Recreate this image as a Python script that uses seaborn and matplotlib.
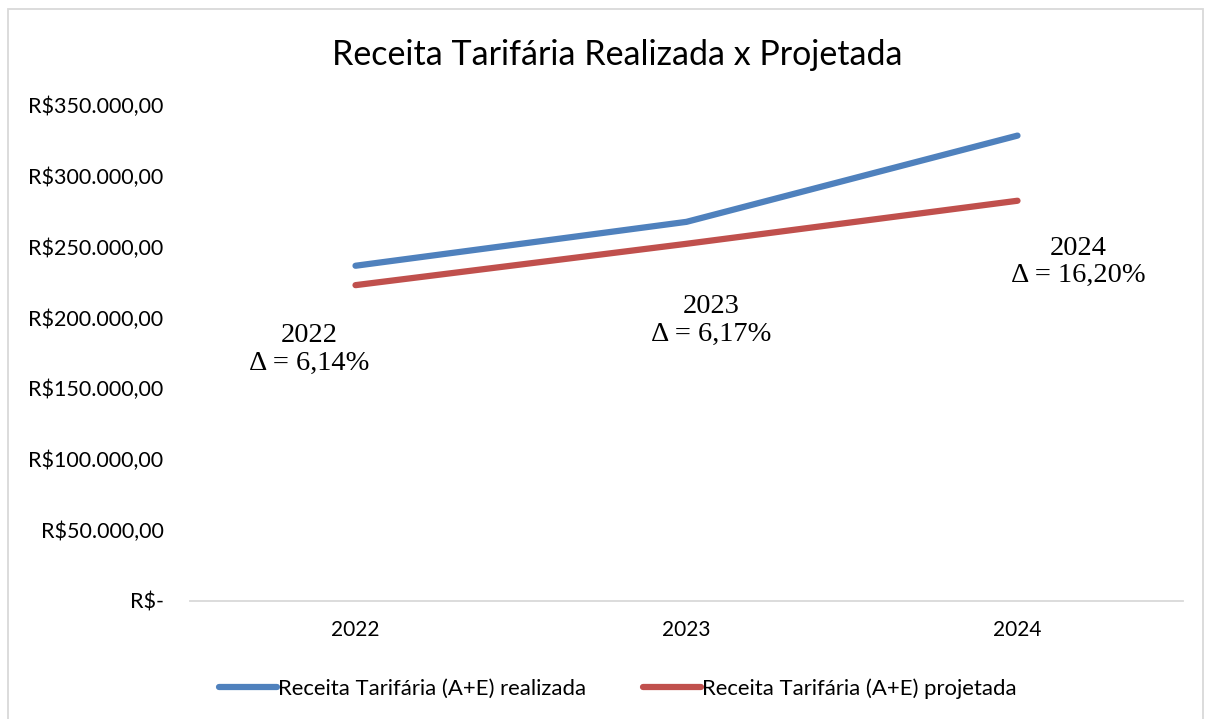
import matplotlib
matplotlib.use("Agg")
import matplotlib.pyplot as plt
from matplotlib.patches import Rectangle
from matplotlib.ticker import FuncFormatter
import seaborn as sns
import pandas as pd

years = ["2022", "2023", "2024"]
realizada = [236500, 267500, 328400]
projetada = [222800, 252000, 282400]
deltas = ["6,14%", "6,17%", "16,20%"]
series_names = ["Receita Tarifária (A+E) realizada", "Receita Tarifária (A+E) projetada"]
title = "Receita Tarifária Realizada x Projetada"

df = pd.DataFrame({
    "Ano": years * 2,
    "Valor": realizada + projetada,
    "Serie": [series_names[0]] * 3 + [series_names[1]] * 3,
})

sns.set_theme(style="white")
plt.rcParams["font.family"] = ["Lato", "DejaVu Sans"]
plt.rcParams["text.color"] = "black"
plt.rcParams["xtick.color"] = "black"
plt.rcParams["ytick.color"] = "black"

fig = plt.figure(figsize=(12.05, 7.19), dpi=100)
ax = fig.add_axes([190 / 1205, 1 - 600.7 / 719, (1183 - 190) / 1205, (600.7 - 105) / 719])

palette = {series_names[0]: "#4F81BD", series_names[1]: "#C0504D"}
sns.lineplot(data=df, x="Ano", y="Valor", hue="Serie", palette=palette,
             linewidth=4.5, ax=ax, sort=False, legend=True)
for ln in ax.get_lines():
    ln.set_solid_capstyle("round")

ax.set_xlim(-0.5, 2.5)
ax.set_ylim(0, 350000)
ax.set_yticks(range(0, 350001, 50000))

def fmt(v, pos):
    if v == 0:
        return "R$-"
    s = f"{int(v):,}".replace(",", ".")
    return f"R${s},00"

ax.yaxis.set_major_formatter(FuncFormatter(fmt))
ax.tick_params(axis="y", labelsize=15.5, pad=19, length=0, labelcolor="black")
ax.tick_params(axis="x", labelsize=15, pad=14, length=0, labelcolor="black")
ax.set_xlabel("")
ax.set_ylabel("")
for side in ["top", "right", "left"]:
    ax.spines[side].set_visible(False)
ax.spines["bottom"].set_color("#D9D9D9")
ax.spines["bottom"].set_linewidth(1.3)

# annotations
ann_x = [-0.14, 1.074, 2.183]
ann_y = [177500, 198000, 239000]
for x, y, yr, d in zip(ann_x, ann_y, years, deltas):
    ax.text(x, y, f"{yr}\nΔ = {d}", ha="center", va="center", fontsize=20.5,
            family=["Liberation Serif", "DejaVu Serif"], linespacing=1.12, color="black")

fig.suptitle(title, x=617 / 1205, y=1 - 55 / 719, va="center", fontsize=24.5, color="black")

leg = ax.legend(loc="center", bbox_to_anchor=(0.431, -0.177), ncol=2, frameon=False,
                fontsize=15.9, handlelength=2.6, handletextpad=0.05, columnspacing=2.6)
for h in leg.get_lines():
    h.set_linewidth(4.5)
for t in leg.get_texts():
    t.set_color("black")

fig.patches.append(Rectangle((8 / 1205, -0.01), 1195 / 1205, 1 - 9 / 719 + 0.01,
                             transform=fig.transFigure, fill=False,
                             edgecolor="#D9D9D9", linewidth=1.3))

fig.savefig("out.png", dpi=100)
